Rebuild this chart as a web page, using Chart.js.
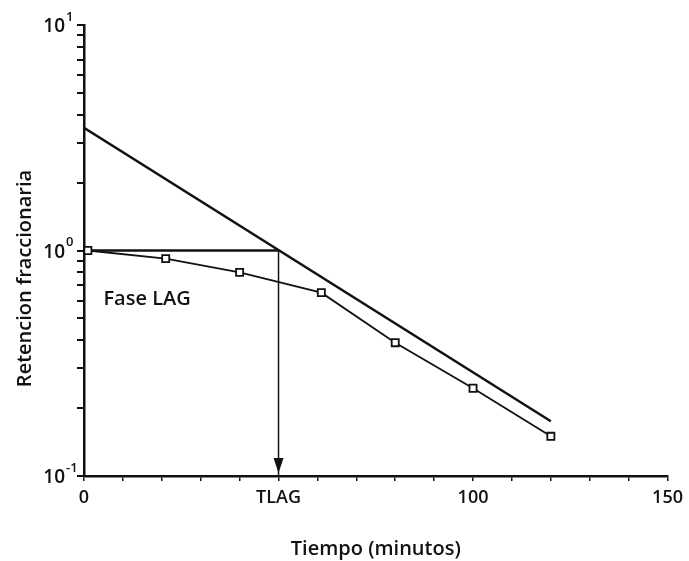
<!DOCTYPE html>
<html>
<head>
<meta charset="utf-8">
<script src="https://cdn.jsdelivr.net/npm/chart.js@4.4.0/dist/chart.umd.min.js"></script>
<style>
  html, body { margin: 0; padding: 0; background: #fff; }
</style>
</head>
<body>
<canvas id="chartRetencion" width="689" height="561"></canvas>
<script>
// retención medida (cuadros)
var tiempo = [1, 21, 40, 61, 80, 100, 120];
var retencion = [1.0, 0.92, 0.80, 0.65, 0.39, 0.245, 0.15];

// recta extrapolada de la fase terminal
var tiempoRecta = [0, 120];
var retencionRecta = [3.5, 0.175];

// fase lag
var tLag = 50;
var retencionLag = [1.0, 0.1];

var xTickValues = [0, 50, 100, 150];
var xTickLabels = ['0', 'TLAG', '100', '150'];
var yExponents = [1, 0, -1];
// marcas del eje log: 1..9 en cada decada
var yMarcas = [0.1, 0.2, 0.3, 0.4, 0.5, 0.6, 0.7, 0.8, 0.9, 1, 2, 3, 4, 5, 6, 7, 8, 9, 10];

var FONT = "'Open Sans', 'DejaVu Sans', sans-serif";
var INK = '#111';

function pares(xs, ys) {
    return xs.map(function(x, i) { return {x: x, y: ys[i]}; });
}

// marcas del eje y, etiquetas 10^n, titulo vertical, "Fase LAG" y punta de flecha
var textosExtra = {
    id: 'textosExtra',
    afterDraw: function(chart) {
        var ctx = chart.ctx;
        var area = chart.chartArea;
        var xs = chart.scales.x, ys = chart.scales.y;
        ctx.save();
        ctx.fillStyle = INK;

        for (var i = 0; i < yMarcas.length; i++) {
            var my = Math.round(ys.getPixelForValue(yMarcas[i]));
            ctx.fillRect(area.left - 7, my - 1, 7, 2);
        }

        yExponents.forEach(function(e) {
            var py = ys.getPixelForValue(Math.pow(10, e));
            ctx.font = '600 19px ' + FONT;
            ctx.textAlign = 'right';
            ctx.textBaseline = 'middle';
            ctx.fillText('10', area.left - 19, py + 2);
            ctx.font = '600 13px ' + FONT;
            ctx.textAlign = 'left';
            ctx.fillText(e < 0 ? '-' + Math.abs(e) : String(e), area.left - 18, py - 8);
        });

        ctx.save();
        ctx.translate(25, (area.top + area.bottom) / 2 + 28);
        ctx.rotate(-Math.PI / 2);
        ctx.font = '600 20px ' + FONT;
        ctx.textAlign = 'center';
        ctx.textBaseline = 'middle';
        ctx.fillText('Retencion fraccionaria', 0, 0);
        ctx.restore();

        ctx.font = '600 20px ' + FONT;
        ctx.textAlign = 'left';
        ctx.textBaseline = 'middle';
        ctx.fillText('Fase LAG', xs.getPixelForValue(5), ys.getPixelForValue(0.61));

        var ax = xs.getPixelForValue(tLag);
        var ay = ys.getPixelForValue(retencionLag[1]) - 3;
        ctx.beginPath();
        ctx.moveTo(ax, ay);
        ctx.lineTo(ax - 5, ay - 15);
        ctx.lineTo(ax + 5, ay - 15);
        ctx.closePath();
        ctx.fill();
        ctx.restore();
    }
};

var chart = new Chart(document.getElementById('chartRetencion').getContext('2d'), {
    type: 'line',
    data: {
        datasets: [{
            data: pares(tiempo, retencion),
            borderColor: INK,
            borderWidth: 1.8,
            pointStyle: 'rect',
            pointRadius: 5,
            pointBackgroundColor: '#fff',
            pointBorderColor: INK,
            pointBorderWidth: 1.8,
            clip: false
        }, {
            data: pares(tiempoRecta, retencionRecta),
            borderColor: INK,
            borderWidth: 2.5,
            pointRadius: 0
        }, {
            data: [{x: 0, y: retencionLag[0]}, {x: tLag, y: retencionLag[0]}],
            borderColor: INK,
            borderWidth: 2.5,
            pointRadius: 0
        }, {
            data: [{x: tLag, y: retencionLag[0]}, {x: tLag, y: retencionLag[1]}],
            borderColor: INK,
            borderWidth: 1.5,
            pointRadius: 0
        }]
    },
    options: {
        responsive: false,
        animation: false,
        layout: { padding: { top: 25, right: 19, left: 0, bottom: 0 } },
        plugins: { legend: { display: false }, tooltip: { enabled: false } },
        scales: {
            x: {
                type: 'linear',
                min: 0,
                max: 150,
                afterBuildTicks: function(scale) {
                    var t = [];
                    for (var v = 0; v <= 150; v += 10) t.push({value: v});
                    scale.ticks = t;
                },
                ticks: {
                    autoSkip: false,
                    maxRotation: 0,
                    padding: 6,
                    color: INK,
                    font: { family: FONT, size: 18, weight: '600' },
                    callback: function(v) {
                        var i = xTickValues.indexOf(v);
                        return i >= 0 ? xTickLabels[i] : '';
                    }
                },
                grid: { drawOnChartArea: false, color: INK, lineWidth: 1.5, tickLength: 5 },
                border: { color: INK, width: 2.5 },
                title: {
                    display: true,
                    text: 'Tiempo (minutos)',
                    color: INK,
                    font: { family: FONT, size: 20, weight: '600' },
                    padding: { top: 2, bottom: 0 }
                },
                afterFit: function(scale) { scale.height = 85; }
            },
            y: {
                type: 'logarithmic',
                min: 0.1,
                max: 10,
                ticks: { display: false },
                grid: { display: false },
                border: { color: INK, width: 2.5 },
                afterFit: function(scale) { scale.width = 84; }
            }
        }
    },
    plugins: [textosExtra]
});
</script>
</body>
</html>
